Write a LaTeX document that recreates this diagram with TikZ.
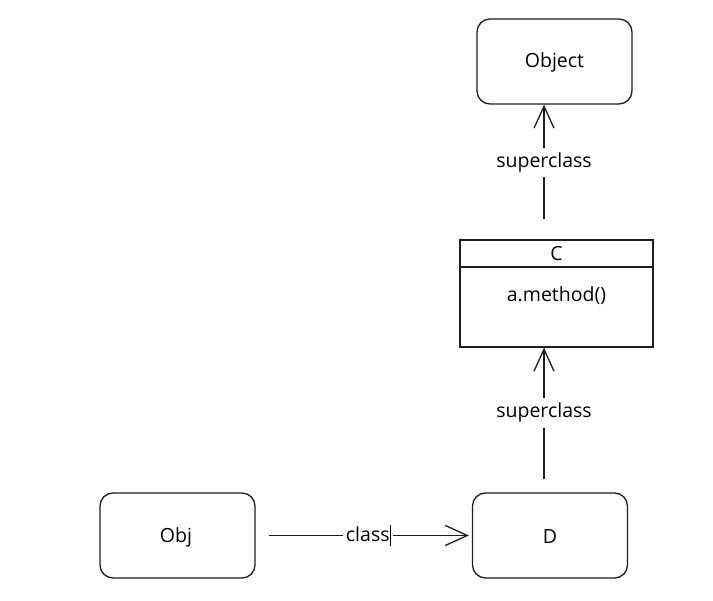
\documentclass[tikz,border=0pt]{standalone}
\usepackage{fontspec}
\setmainfont{Open Sans}
\usetikzlibrary{arrows.meta,calc}
\definecolor{ink}{HTML}{1E1E1E}
\tikzset{
  box/.style={draw=ink, line width=1.3pt, rounded corners=13pt, minimum width=155pt, minimum height=85pt, inner sep=0pt},
  cbox/.style={draw=ink, line width=1.3pt, minimum width=193pt, minimum height=107pt, inner sep=0pt},
  txt/.style={font=\fontsize{19.5}{22}\selectfont, text=black, inner sep=1pt},
  conn/.style={draw=ink, line width=1.3pt, -{Straight Barb[length=22pt,width=20pt,line width=1.3pt]}},
  lbl/.style={txt, fill=white, inner sep=5pt}
}
\begin{document}
\begin{tikzpicture}[x=1pt,y=-1pt]
\useasboundingbox[fill=white] (0,0) rectangle (713,601);
\node[box] (Object) at (554.5,61.5) {};
\node[txt] (ObjectT) at (554.5,62) {Object};
\node[cbox] (C) at (556.5,293.5) {};
\coordinate (Cdl) at (460,267);
\coordinate (Cdr) at (653,267);
\draw[draw=ink, line width=1.3pt] (Cdl) -- (Cdr);
\node[txt] (Ct) at (556.5,254) {C};
\node[txt] (Cm) at (556.5,296) {a.method()};
\node[box] (Obj) at (177.5,535.5) {};
\node[txt] (ObjT) at (176,537) {Obj};
\node[box] (D) at (550,535.5) {};
\node[txt] (DT) at (550,537) {D};
\draw[conn, shorten <=20pt] ([xshift=-12.5pt]C.north) -- ([xshift=-12.5pt]C.north |- Object.south)
  node[lbl, pos=0.57] (l1) {superclass};
\draw[conn, shorten <=13pt] ([xshift=-6pt]D.north) -- ([xshift=-6pt]D.north |- C.south)
  node[lbl, pos=0.55] (l2) {superclass};
\draw[conn, shorten <=13pt, shorten >=3pt] (Obj.east) -- (D.west)
  node[lbl, pos=0.52, inner xsep=3pt] (l3) {class\rule[-4pt]{0.6pt}{21pt}};
\end{tikzpicture}
\end{document}
